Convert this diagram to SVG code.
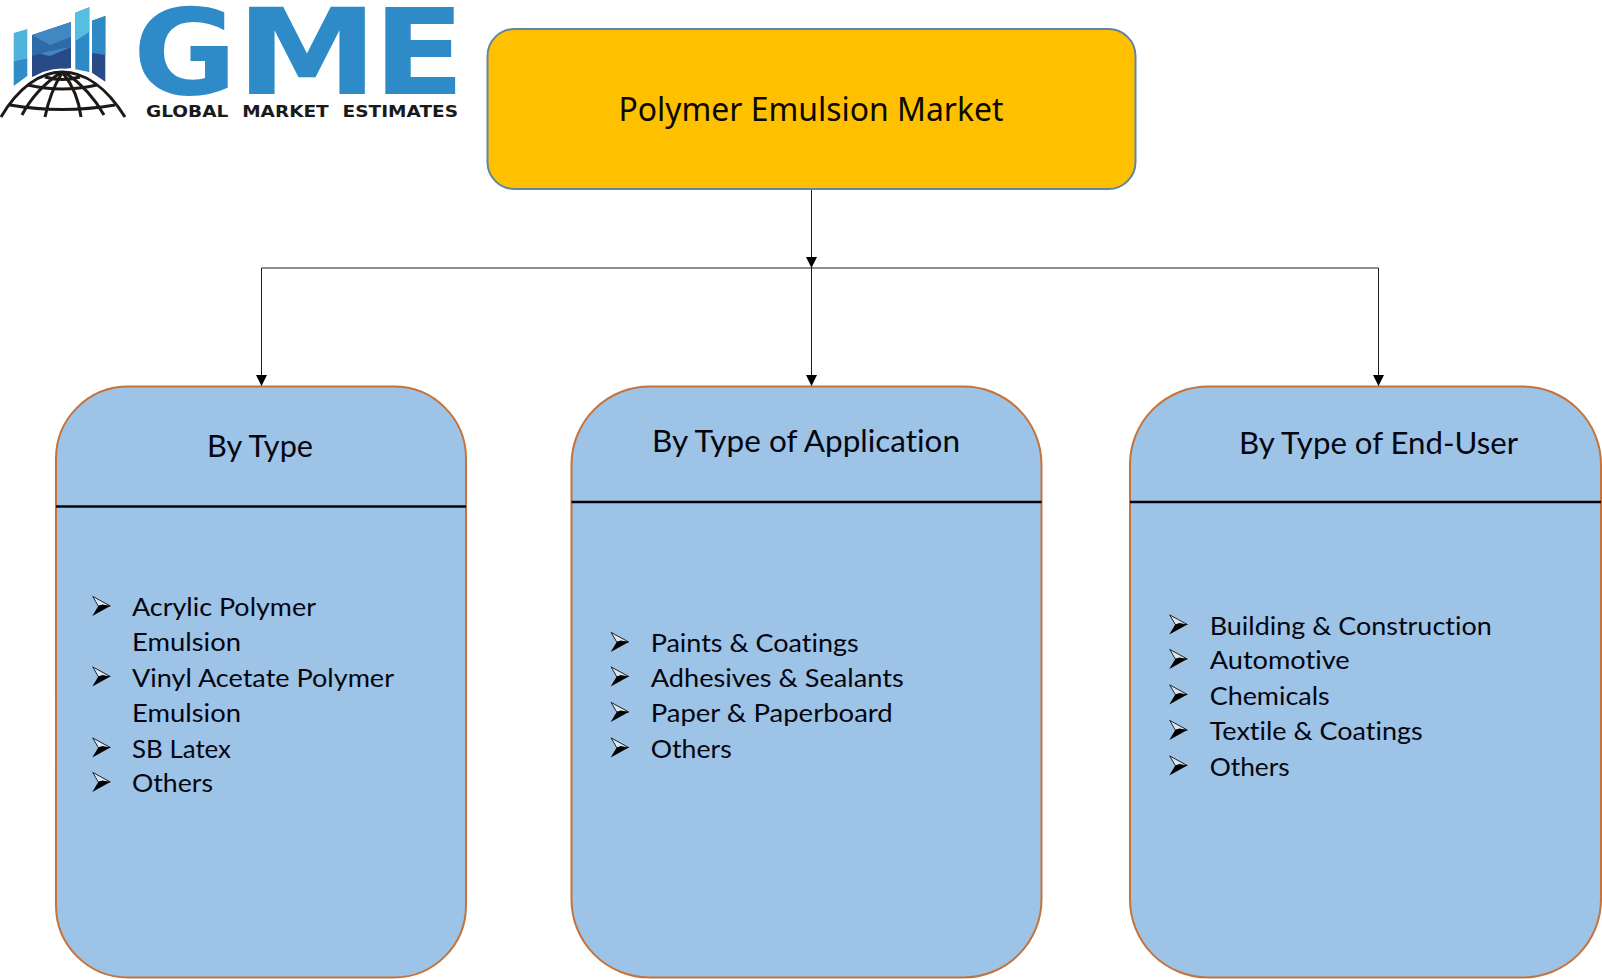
<svg xmlns="http://www.w3.org/2000/svg" width="1602" height="979" viewBox="0 0 1602 979">
<style>
text{font-family:"Lato","Carlito","Liberation Sans",sans-serif;fill:#05060f;font-variant-ligatures:none}
.item{font-size:25px}
.head{font-size:30px}
.root{font-family:"Noto Sans","Liberation Sans",sans-serif;font-size:32px;fill:#0a0800}
.box{fill:#9dc3e6;stroke:#c5733a;stroke-width:2}
.rule{stroke:#05060f;stroke-width:2.6}
.conn{fill:none;stroke:#1c1c1c;stroke-width:1}
.gme{font-family:"DejaVu Sans",sans-serif;font-weight:700;font-size:119px;fill:#2e8bc7}
.tag{font-family:"DejaVu Sans",sans-serif;font-weight:700;font-size:15px;fill:#1a1a1a;word-spacing:6px}
.lat{fill:none;stroke:#1c1917;stroke-width:3}
</style>
<defs>
<marker id="arrow" markerUnits="userSpaceOnUse" markerWidth="12" markerHeight="12" refX="11" refY="5.5" orient="auto"><path d="M0 0L11 5.5L0 11Z" fill="#000"/></marker>
<g id="bullet"><path d="M0.4-9.6L18 0L6 0Z" fill="#dbe6f2" stroke="#111" stroke-width="0.9"/><path d="M0 10L18 0L6 0Z" fill="#000"/><path d="M10-1.5L18 0L6 0Z" fill="#000"/></g>
</defs>
<rect width="1602" height="979" fill="#fff"/>

<g id="logo">
<polygon points="13.7,33 27.3,29 27.3,58 13.7,61" fill="#4fb3dc"/>
<polygon points="13.7,61 27.3,58 27.3,76 13.7,86" fill="#2f8cc8"/>
<polygon points="32,35 71,22 71,68 50,71 32,77" fill="#2a4a87"/>
<polygon points="32,35 71,22 71,47 50,56 32,52" fill="#3f88c2"/>
<polygon points="32,35 50,45 71,37 71,47 50,51 32,56" fill="#2f6aa8"/>
<polygon points="75.3,12.7 89.3,7.3 89.3,72 75.3,69.3" fill="#2e8ac6"/>
<polygon points="75.3,12.7 89.3,7.3 89.3,32 75.3,41" fill="#55bfe2"/>
<polygon points="92,20.7 105.3,16 105.3,81.7 92,72.7" fill="#2a4a87"/>
<polygon points="92,20.7 105.3,16 105.3,55 92,53" fill="#2e8ac6"/>
<path d="M1 117C18 88 40 72 62 72C85 72 107 88 125 117" fill="none" stroke="#fff" stroke-width="7"/>
<path class="lat" d="M1 117C18 88 40 72 62 72C85 72 107 88 125 117"/>
<path class="lat" d="M28 85Q62 93 97 85M10 105Q62 114 115 105M45 77Q62 82 80 77"/>
<path class="lat" d="M60 73Q35 90 22 115M62 73Q50 92 45 117M63 73Q78 92 81 117M66 73Q90 90 104 115"/>
<text class="gme" x="133" y="94" textLength="104" lengthAdjust="spacingAndGlyphs">G</text>
<text class="gme" x="236" y="94" textLength="142" lengthAdjust="spacingAndGlyphs">M</text>
<text class="gme" x="373" y="94" textLength="92" lengthAdjust="spacingAndGlyphs">E</text>
<text class="tag" x="146" y="117" textLength="312" lengthAdjust="spacingAndGlyphs">GLOBAL MARKET ESTIMATES</text>
</g>

<g id="connectors">
<path class="conn" d="M811.5 189V268" marker-end="url(#arrow)"/>
<path class="conn" d="M261.5 268H1378.5"/>
<path class="conn" d="M261.5 268V386" marker-end="url(#arrow)"/>
<path class="conn" d="M811.5 268V386" marker-end="url(#arrow)"/>
<path class="conn" d="M1378.5 268V386" marker-end="url(#arrow)"/>
</g>

<g id="root">
<rect x="487.5" y="29" width="648" height="160" rx="27" fill="#ffc000" stroke="#5f86a3" stroke-width="2"/>
<text class="root" x="618.5" y="121" textLength="385" lengthAdjust="spacingAndGlyphs">Polymer Emulsion Market</text>
</g>

<g id="by-type">
<rect class="box" x="56" y="386.5" width="410" height="591" rx="72"/>
<line class="rule" x1="56" y1="506.5" x2="466" y2="506.5"/>
<text class="head" x="207" y="457" textLength="106" lengthAdjust="spacingAndGlyphs">By Type</text>
<use href="#bullet" x="92.3" y="606"/><text class="item" x="132" y="616" textLength="184" lengthAdjust="spacingAndGlyphs">Acrylic Polymer</text>
<text class="item" x="132" y="651" textLength="109" lengthAdjust="spacingAndGlyphs">Emulsion</text>
<use href="#bullet" x="92.3" y="676.5"/><text class="item" x="132" y="686.5" textLength="262" lengthAdjust="spacingAndGlyphs">Vinyl Acetate Polymer</text>
<text class="item" x="132" y="722" textLength="109" lengthAdjust="spacingAndGlyphs">Emulsion</text>
<use href="#bullet" x="92.3" y="747.5"/><text class="item" x="132" y="757.5" textLength="99" lengthAdjust="spacingAndGlyphs">SB Latex</text>
<use href="#bullet" x="92.3" y="782"/><text class="item" x="132" y="792" textLength="81" lengthAdjust="spacingAndGlyphs">Others</text>
</g>

<g id="by-application">
<rect class="box" x="571.5" y="386.5" width="470" height="591" rx="78"/>
<line class="rule" x1="571.5" y1="502" x2="1041.5" y2="502"/>
<text class="head" x="652" y="452" textLength="308" lengthAdjust="spacingAndGlyphs">By Type of Application</text>
<use href="#bullet" x="610.7" y="642"/><text class="item" x="650.7" y="652" textLength="208" lengthAdjust="spacingAndGlyphs">Paints &amp; Coatings</text>
<use href="#bullet" x="610.7" y="676.5"/><text class="item" x="650.7" y="686.5" textLength="253" lengthAdjust="spacingAndGlyphs">Adhesives &amp; Sealants</text>
<use href="#bullet" x="610.7" y="712"/><text class="item" x="650.7" y="722" textLength="242" lengthAdjust="spacingAndGlyphs">Paper &amp; Paperboard</text>
<use href="#bullet" x="610.7" y="747.5"/><text class="item" x="650.7" y="757.5" textLength="81" lengthAdjust="spacingAndGlyphs">Others</text>
</g>

<g id="by-end-user">
<rect class="box" x="1130" y="386.5" width="471" height="591" rx="78"/>
<line class="rule" x1="1130" y1="502" x2="1601" y2="502"/>
<text class="head" x="1239" y="454" textLength="279" lengthAdjust="spacingAndGlyphs">By Type of End-User</text>
<use href="#bullet" x="1169.3" y="624.5"/><text class="item" x="1209.7" y="634.5" textLength="282" lengthAdjust="spacingAndGlyphs">Building &amp; Construction</text>
<use href="#bullet" x="1169.3" y="659"/><text class="item" x="1209.7" y="669" textLength="140" lengthAdjust="spacingAndGlyphs">Automotive</text>
<use href="#bullet" x="1169.3" y="694.5"/><text class="item" x="1209.7" y="704.5" textLength="120" lengthAdjust="spacingAndGlyphs">Chemicals</text>
<use href="#bullet" x="1169.3" y="730"/><text class="item" x="1209.7" y="740" textLength="213" lengthAdjust="spacingAndGlyphs">Textile &amp; Coatings</text>
<use href="#bullet" x="1169.3" y="765.5"/><text class="item" x="1209.7" y="775.5" textLength="80" lengthAdjust="spacingAndGlyphs">Others</text>
</g>
</svg>
